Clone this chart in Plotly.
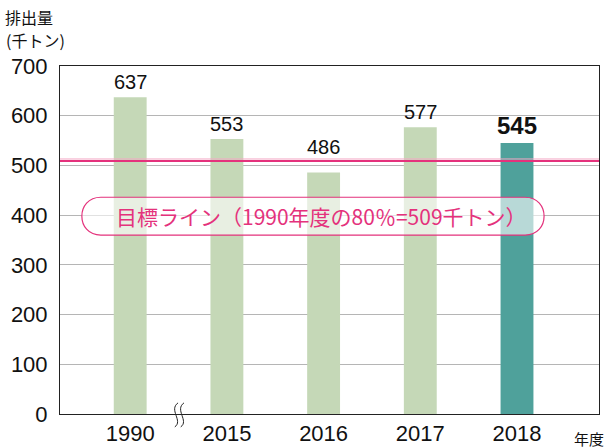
import plotly.graph_objects as go

years = ["1990", "2015", "2016", "2017", "2018"]
emissions = [637, 553, 486, 577, 545]
bar_colors = ["#c5d8b7", "#c5d8b7", "#c5d8b7", "#c5d8b7", "#4fa19b"]
label_texts = ["637", "553", "486", "577", "<b>545</b>"]
label_sizes = [20, 20, 20, 20, 24]
target_value = 509
target_label = "目標ライン（1990年度の80％=509千トン）"
y_ticks = [0, 100, 200, 300, 400, 500, 600, 700]

PINK = "#e4327c"
JP = "Noto Sans CJK JP"
LAT = "Liberation Sans, Arial"

fig = go.Figure()
fig.add_trace(go.Bar(
    x=list(range(len(years))), y=emissions, width=0.34,
    marker=dict(color=bar_colors, line=dict(width=0)),
    hoverinfo="skip",
))

# value labels; lift a label clear of the target line when it would cross it
for i, (v, t, s) in enumerate(zip(emissions, label_texts, label_sizes)):
    lift = 10 if v < target_value < v + 45 else 0
    fig.add_annotation(x=i, y=v, xref="x", yref="y", text=t, showarrow=False,
                       yanchor="bottom", yshift=2 + lift,
                       font=dict(family=LAT, size=s, color="#111"))

# target line (double pink rule)
fig.add_shape(type="line", xref="paper", x0=0, x1=1, yref="y",
              y0=target_value + 4, y1=target_value + 4,
              line=dict(color="#f4a6c4", width=1), layer="above")
fig.add_shape(type="line", xref="paper", x0=0, x1=1, yref="y",
              y0=target_value, y1=target_value,
              line=dict(color=PINK, width=2), layer="above")

# rounded pill box (in axis units)
x0, x1 = -0.5, 4.28
yc, hh = 398, 76
rx = 0.196
p = (f"M {x0+rx},{yc+hh/2} L {x1-rx},{yc+hh/2} "
     f"C {x1+rx/3},{yc+hh/2} {x1+rx/3},{yc-hh/2} {x1-rx},{yc-hh/2} "
     f"L {x0+rx},{yc-hh/2} "
     f"C {x0-rx/3},{yc-hh/2} {x0-rx/3},{yc+hh/2} {x0+rx},{yc+hh/2} Z")
fig.add_shape(type="path", path=p, xref="x", yref="y",
              fillcolor="rgba(255,255,255,0.6)",
              line=dict(color=PINK, width=1.2), layer="above")
fig.add_annotation(x=(x0+x1)/2, y=yc, xref="x", yref="y", text=target_label,
                   showarrow=False, xshift=9,
                   font=dict(family=JP, size=21, color=PINK))

# axis titles
fig.add_annotation(x=0, y=1, xref="paper", yref="paper", xanchor="left", yanchor="middle",
                   text="排出量", showarrow=False,
                   font=dict(family=JP, size=16, color="#111"),
                   xshift=-57, yshift=49)
fig.add_annotation(x=0, y=1, xref="paper", yref="paper", xanchor="left", yanchor="middle",
                   text="(千トン)", showarrow=False,
                   font=dict(family=JP, size=16, color="#111"),
                   xshift=-56, yshift=26)
fig.add_annotation(x=1, y=0, xref="paper", yref="paper", xanchor="right", yanchor="top",
                   text="年度", showarrow=False,
                   font=dict(family=JP, size=15, color="#111"),
                   xshift=7, yshift=-12)

# axis break symbol
for bx in [0.215, 0.226]:
    fig.add_shape(type="path", xref="paper", yref="paper",
                  path=(f"M {bx+0.004},0.032 C {bx-0.014},0.012 {bx+0.014},-0.02 {bx-0.002},-0.037"),
                  line=dict(color="#222", width=1))

fig.update_layout(
    width=608, height=448,
    margin=dict(l=60, r=9, t=66, b=34, autoexpand=False),
    paper_bgcolor="white", plot_bgcolor="white",
    showlegend=False,
    xaxis=dict(range=[-0.726, 4.848], tickmode="array",
               tickvals=list(range(len(years))), ticktext=years,
               showgrid=False, zeroline=False, showline=True, linecolor="#222",
               linewidth=1, mirror=True, ticks="", automargin=False,
               tickfont=dict(family=LAT, size=22, color="#111")),
    yaxis=dict(range=[0, 700], tickmode="array", tickvals=y_ticks,
               showgrid=True, gridcolor="#b5b5b5", gridwidth=1,
               zeroline=False, showline=True, linecolor="#222", linewidth=1,
               mirror=True, ticks="", ticklabelstandoff=7, automargin=False,
               tickfont=dict(family=LAT, size=22, color="#111")),
)

fig.write_html("out.html", config={"displayModeBar": False},
               post_script="document.body.style.margin='0';")
